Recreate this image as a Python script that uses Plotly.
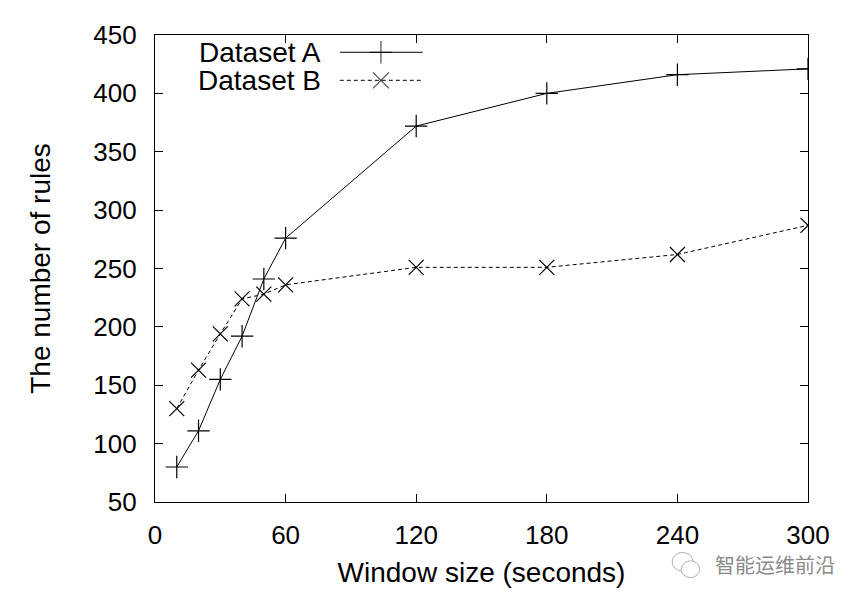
import plotly.graph_objects as go

window = [10, 20, 30, 40, 50, 60, 120, 180, 240, 300]
dataset_a = [80, 111, 155, 192, 241, 276, 372, 400, 416, 421]
dataset_b = [130, 163, 194, 224, 228, 236, 251, 251, 262, 287]
x_ticks = [0, 60, 120, 180, 240, 300]
y_ticks = [50, 100, 150, 200, 250, 300, 350, 400, 450]
series_names = ["Dataset A", "Dataset B"]

FONT = "Liberation Sans, Arial, sans-serif"

fig = go.Figure()
fig.add_trace(go.Scatter(
    x=window, y=dataset_a, mode="lines+markers", name=series_names[0],
    line=dict(color="black", width=1),
    marker=dict(symbol="cross-thin", size=16, line=dict(color="black", width=1.2)),
    showlegend=False))
fig.add_trace(go.Scatter(
    x=window, y=dataset_b, mode="lines+markers", name=series_names[1],
    line=dict(color="black", width=1, dash="4px,3px"),
    marker=dict(symbol="x-thin", size=15, line=dict(color="black", width=1.2)),
    showlegend=False))

# manual gnuplot-style legend (text then sample) on an overlay axis in [0,1]
leg_y = [0.963, 0.903]
leg_dash = ["solid", "4px,3px"]
leg_sym = ["cross-thin", "x-thin"]
for i, name in enumerate(series_names):
    fig.add_trace(go.Scatter(
        x=[0.283, 0.346, 0.41], y=[leg_y[i]] * 3, mode="lines+markers",
        xaxis="x2", yaxis="y2", showlegend=False, hoverinfo="skip",
        line=dict(color="black", width=1, dash=leg_dash[i]),
        marker=dict(symbol=leg_sym[i], size=[0, 16, 0],
                    line=dict(color="black", width=1.2))))
    fig.add_annotation(x=0.257, y=leg_y[i], xref="x2", yref="y2", text=name,
                       showarrow=False, xanchor="right", yanchor="middle",
                       font=dict(family=FONT, size=28, color="black"))

# watermark
fig.add_annotation(x=1.045, y=-0.134, xref="paper", yref="paper",
                   text="智能运维前沿", showarrow=False,
                   xanchor="right", yanchor="middle",
                   font=dict(family="Noto Sans CJK SC", size=20, color="#8a8a8a"))
fig.add_shape(type="circle", xref="paper", yref="paper",
              x0=0.792, x1=0.824, y0=-0.148, y1=-0.108,
              line=dict(color="#b0b0b0", width=1))
fig.add_shape(type="circle", xref="paper", yref="paper",
              x0=0.806, x1=0.834, y0=-0.162, y1=-0.126,
              fillcolor="white", line=dict(color="#b0b0b0", width=1))

axis_common = dict(showline=True, linecolor="black", linewidth=1.3, mirror="ticks",
                   ticks="inside", ticklen=8, tickwidth=1, tickcolor="black",
                   showgrid=False, zeroline=False,
                   tickfont=dict(family=FONT, size=26, color="black"))

fig.update_layout(
    width=864, height=600,
    margin=dict(l=147, r=64, t=23, b=106),
    paper_bgcolor="white", plot_bgcolor="white",
    xaxis=dict(range=[0, 300], tickvals=x_ticks, ticklabelstandoff=10, **axis_common,
               title=dict(text="Window size (seconds)", standoff=13,
                          font=dict(family=FONT, size=28, color="black"))),
    yaxis=dict(range=[50, 450], tickvals=y_ticks, ticklabelstandoff=12, **axis_common,
               title=dict(text="The number of rules", standoff=34,
                          font=dict(family=FONT, size=28, color="black"))),
    xaxis2=dict(range=[0, 1], overlaying="x", visible=False, fixedrange=True),
    yaxis2=dict(range=[0, 1], overlaying="y", visible=False, fixedrange=True),
)

fig.write_html("out.html")
